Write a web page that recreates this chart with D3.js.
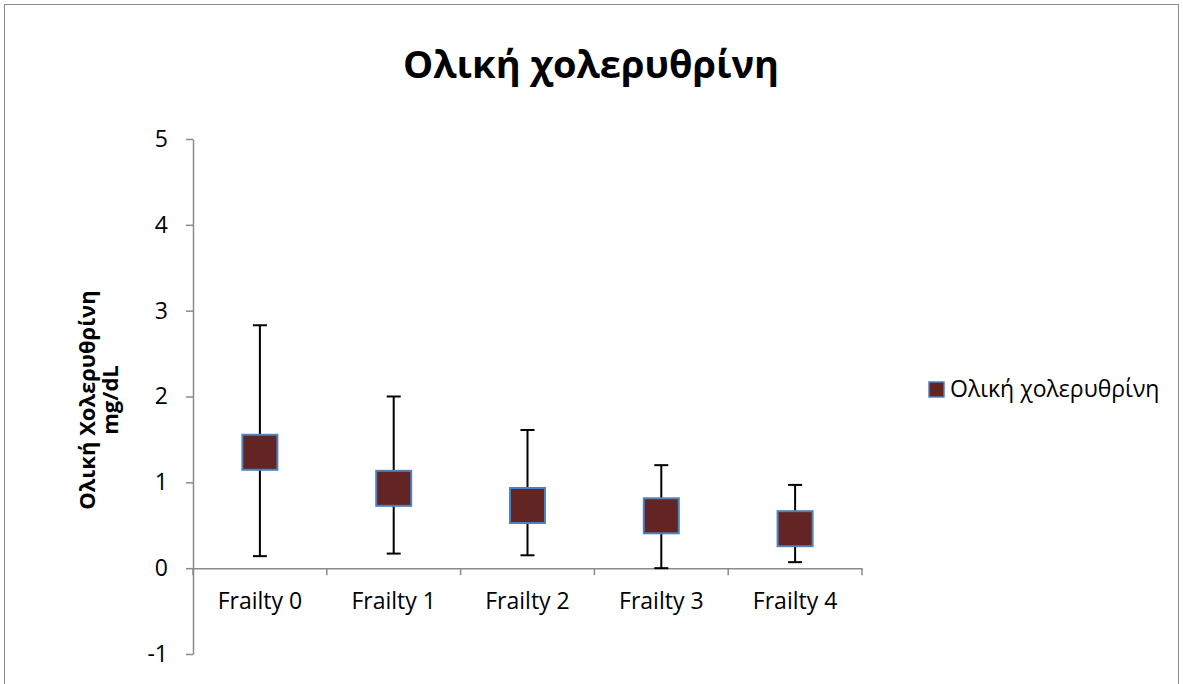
<!DOCTYPE html>
<html><head><meta charset="utf-8">
<script src="https://cdn.jsdelivr.net/npm/d3@7"></script>
<style>body{margin:0;background:#fff}svg{display:block}</style>
</head><body><svg id="c" width="1183" height="684"></svg>
<script>
const categories = ["Frailty 0","Frailty 1","Frailty 2","Frailty 3","Frailty 4"];
const means = [1.35, 0.93, 0.73, 0.61, 0.46];
const upper = [2.83, 2.00, 1.61, 1.20, 0.97];
const lower = [0.14, 0.17, 0.15, 0.00, 0.07];
const yTicks = [-1, 0, 1, 2, 3, 4, 5];
const title = "Ολική χολερυθρίνη";
const yTitle = ["Ολική Χολερυθρίνη", "mg/dL"];
const seriesName = "Ολική χολερυθρίνη";

const svg = d3.select("#c");
const font = "'Open Sans', 'Noto Sans', sans-serif";
svg.append("rect").attr("x",4.5).attr("y",4.5).attr("width",1174).attr("height",700)
  .attr("fill","#fff").attr("stroke","#8c8c8c").attr("stroke-width",1);

const x = d3.scaleBand().domain(categories).range([193, 862]);
const y = d3.scaleLinear().domain([-1, 5]).range([654, 139]);
const axisColor = "#8a8a8a";

// title
svg.append("text").attr("x",591).attr("y",78).attr("text-anchor","middle")
  .attr("font-family",font).attr("font-weight","bold").attr("font-size",38)
  .attr("fill","#000").text(title);

// y axis
const ya = svg.append("g").attr("transform","translate(193,0)")
  .call(d3.axisLeft(y).tickValues(yTicks).tickSize(7).tickSizeOuter(0).tickPadding(18).tickFormat(d => String(d)));
ya.select(".domain").attr("stroke",axisColor).attr("stroke-width",1.5);
ya.selectAll(".tick line").attr("stroke",axisColor).attr("stroke-width",1.5);
ya.selectAll("text").attr("font-family",font).attr("font-size",23).attr("fill","#000");

// x axis at 0
const xa = svg.append("g").attr("transform",`translate(0,${y(0)})`)
  .call(d3.axisBottom(x).tickSize(0).tickPadding(25));
xa.select(".domain").attr("stroke",axisColor).attr("stroke-width",1.5);
xa.selectAll("text").attr("font-family",font).attr("font-size",23).attr("fill","#000");
const bounds = categories.map(c => x(c)).concat([x.range()[1]]);
svg.append("g").selectAll("line").data(bounds).join("line")
  .attr("x1",d=>d).attr("x2",d=>d).attr("y1",y(0)).attr("y2",y(0)+7)
  .attr("stroke",axisColor).attr("stroke-width",1.5);

// y title
const yt = svg.append("text")
  .attr("font-family",font).attr("font-weight","bold").attr("font-size",22).attr("fill","#000")
  .attr("text-anchor","middle").attr("transform","rotate(-90)");
yt.selectAll("tspan").data(yTitle).join("tspan")
  .attr("x",-400).attr("y",(d,i)=>95+i*23).text(d=>d);

// error bars
const data = categories.map((c,i)=>({c, m:means[i], hi:upper[i], lo:lower[i]}));
const g = svg.append("g");
const cx = d => x(d.c) + x.bandwidth()/2;
g.selectAll("line.v").data(data).join("line").attr("class","v")
  .attr("x1",cx).attr("x2",cx).attr("y1",d=>y(d.hi)).attr("y2",d=>y(d.lo))
  .attr("stroke","#000").attr("stroke-width",2);
g.selectAll("line.t").data(data).join("line").attr("class","t")
  .attr("x1",d=>cx(d)-7).attr("x2",d=>cx(d)+7).attr("y1",d=>y(d.hi)).attr("y2",d=>y(d.hi))
  .attr("stroke","#000").attr("stroke-width",2);
g.selectAll("line.b").data(data).join("line").attr("class","b")
  .attr("x1",d=>cx(d)-7).attr("x2",d=>cx(d)+7).attr("y1",d=>y(d.lo)).attr("y2",d=>y(d.lo))
  .attr("stroke","#000").attr("stroke-width",2);
const s = 35;
g.selectAll("rect").data(data).join("rect")
  .attr("x",d=>cx(d)-s/2).attr("y",d=>y(d.m)-s/2).attr("width",s).attr("height",s)
  .attr("fill","#632523").attr("stroke","#4f81bd").attr("stroke-width",2);

// legend
const lg = svg.append("g");
lg.append("rect").attr("x",929).attr("y",382).attr("width",15).attr("height",15)
  .attr("fill","#632523").attr("stroke","#4f81bd").attr("stroke-width",1.5);
lg.append("text").attr("x",950).attr("y",397).attr("font-family",font).attr("font-size",23)
  .attr("fill","#000").text(seriesName);
</script></body></html>
